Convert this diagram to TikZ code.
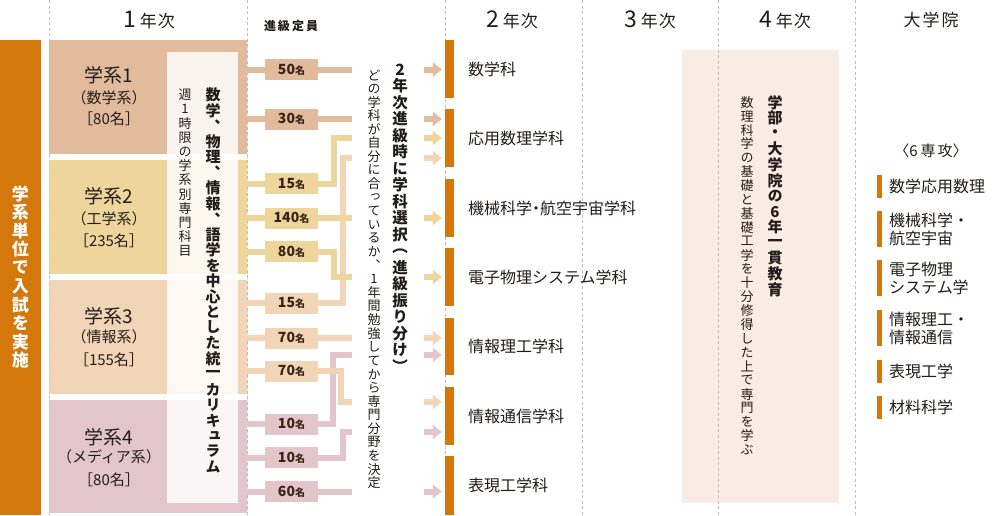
\documentclass[tikz,border=0pt]{standalone}
\usepackage{fontspec}
\setmainfont{Noto Sans CJK JP}
\newfontfamily\vfont[RawFeature=+vert]{Noto Sans CJK JP}
\usetikzlibrary{arrows.meta,calc}
\definecolor{orng}{RGB}{212,120,12}
\definecolor{cA}{RGB}{226,186,156}
\definecolor{cB}{RGB}{237,213,155}
\definecolor{cC}{RGB}{242,212,182}
\definecolor{cD}{RGB}{226,198,204}
\definecolor{bandc}{RGB}{249,236,228}
\definecolor{ink}{RGB}{35,28,26}
\definecolor{qink}{RGB}{58,36,22}
\definecolor{gridc}{RGB}{190,190,190}
\makeatletter
\newcommand\vstk[2]{\vbox{\offinterlineskip\@tfor\vs@c:=#2\do{\hbox to 1.1em{\hss\vbox to #1{\vss\hbox{\vs@c}\vss}\hss}}}}
\makeatother
\newcommand\mei{{\fontsize{10}{10}\selectfont 名}}
\newcommand\nenji[1]{{\fontsize{23}{23}\selectfont #1}\hspace{4pt}{\fontsize{17}{17}\selectfont 年\hspace{1pt}次}}
\begin{document}
\begin{tikzpicture}[x=1pt,y=-1pt,
  txt/.style={inner sep=0pt, text=ink},
  gbox/.style={inner sep=0pt, minimum width=198pt, minimum height=114pt, draw=none},
  qbox/.style={fill=#1, minimum width=53pt, minimum height=21pt, inner sep=0pt, text=qink, font=\bfseries\fontsize{14}{14}\selectfont},
  link/.style={draw=#1, line width=6pt},
  arr/.style={draw=#1, line width=6pt, -{Triangle[length=9pt,width=14pt]}},
  gridline/.style={draw=gridc, dash pattern=on 3pt off 2.5pt, line width=0.8pt},
  dbarst/.style={fill=orng, minimum width=9pt, inner sep=0pt, draw=none},
  gbarst/.style={fill=orng, minimum width=5pt, inner sep=0pt, draw=none},
  dlab/.style={txt, anchor=west, font=\fontsize{16}{16}\selectfont},
  glab/.style={txt, anchor=west, align=left, font=\fontsize{16}{18}\selectfont},
  gname/.style={txt, font=\fontsize{19}{19}\selectfont},
  gsub/.style={txt, font=\fontsize{15}{15}\selectfont},
]
\useasboundingbox (0,0) rectangle (1000,515);
% 4th-year band
\node[fill=bandc, minimum width=157pt, minimum height=453pt, inner sep=0pt] (band) at (760.5,276.5) {};
% dashed column lines
\foreach \xx in {49,247,445,582,718,855} \draw[gridline] (\xx,0) -- (\xx,515);
% headers
\node[txt] (h1) at (149,20) {\nenji{1}};
\node[txt, font=\bfseries\fontsize{12}{12}\selectfont] (hq) at (291,26) {進\,級\,定\,員};
\node[txt] (h2) at (512,20) {\nenji{2}};
\node[txt] (h3) at (650,20) {\nenji{3}};
\node[txt] (h4) at (785,20) {\nenji{4}};
\node[txt, font=\fontsize{17}{17}\selectfont] (h5) at (931,20) {大\hspace{2pt}学\hspace{2pt}院};
% left bar
\node[fill=orng, minimum width=41pt, minimum height=475pt, inner sep=0pt] (lbar) at (20.5,277.5) {};
\node[txt, text=white, font=\vfont\bfseries\fontsize{17}{17}\selectfont] (lbartxt) at (20.5,277) {\vstk{18.5pt}{学系単位で入試を実施}};
% group boxes
\node[gbox, fill=cA] (g1) at (148,97) {};
\node[gbox, fill=cB] (g2) at (148,217) {};
\node[gbox, fill=cC] (g3) at (148,337) {};
\node[gbox, fill=cD, minimum height=113pt] (g4) at (148,456.5) {};
% curriculum overlay
\node[fill=white, fill opacity=0.85, minimum width=71pt, minimum height=451pt, inner sep=0pt] (cur) at (202.5,277.5) {};
\draw[gridline, draw opacity=0.45] (49,40) -- (49,515);
\draw[gridline, draw opacity=0.45] (247,40) -- (247,515);
% group texts
\node[gname] (g1a) at (109,75) {学系1};
\node[gsub] (g1b) at (109,97.5) {（数学系）};
\node[gsub] (g1c) at (109,119) {［80名］};
\node[gname] (g2a) at (109,196) {学系2};
\node[gsub] (g2b) at (109,219) {（工学系）};
\node[gsub] (g2c) at (109,241) {［235名］};
\node[gname] (g3a) at (109,316) {学系3};
\node[gsub] (g3b) at (109,337) {（情報系）};
\node[gsub] (g3c) at (109,360) {［155名］};
\node[gname] (g4a) at (109,437) {学系4};
\node[gsub] (g4b) at (109,457) {（メディア系）};
\node[gsub] (g4c) at (109,480) {［80名］};
% curriculum texts
\node[txt, font=\vfont\fontsize{13}{13}\selectfont] (cur1) at (185,173) {\vstk{14.2pt}{週1時限の学系別専門科目}};
\node[txt, font=\vfont\bfseries\fontsize{15}{15}\selectfont] (cur2) at (213,281) {\vstk{15.5pt}{数学︑物理︑情報︑語学を中心とした統一カリキュラム}};
% quota labels
\node[qbox=cA] (q1) at (291.5,69.5) {50\mei};
\node[qbox=cA] (q2) at (291.5,119) {30\mei};
\node[qbox=cB] (q3) at (291.5,183.5) {15\mei};
\node[qbox=cB] (q4) at (291.5,218) {140\mei};
\node[qbox=cB] (q5) at (291.5,251.5) {80\mei};
\node[qbox=cC] (q6) at (291.5,303) {15\mei};
\node[qbox=cC] (q7) at (291.5,338) {70\mei};
\node[qbox=cC] (q8) at (291.5,371) {70\mei};
\node[qbox=cD] (q9) at (291.5,424) {10\mei};
\node[qbox=cD] (q10) at (291.5,457.5) {10\mei};
\node[qbox=cD] (q11) at (291.5,491.5) {60\mei};
% middle texts
\node[txt, font=\vfont\bfseries\fontsize{15.5}{15.5}\selectfont] (sel1) at (400,218) {\vstk{16.5pt}{2年次進級時に学科選択︵進級振り分け︶}};
\node[txt, font=\vfont\fontsize{13}{13}\selectfont] (sel2) at (374,279) {\vstk{13.6pt}{どの学科が自分に合っているか︑1年間勉強してから専門分野を決定}};
% department bars and labels
\node[dbarst, minimum height=58pt] (d1) at (449.5,69) {};
\node[dbarst, minimum height=58pt] (d2) at (449.5,138) {};
\node[dbarst, minimum height=58pt] (d3) at (449.5,208) {};
\node[dbarst, minimum height=58pt] (d4) at (449.5,277) {};
\node[dbarst, minimum height=57pt] (d5) at (449.5,346.5) {};
\node[dbarst, minimum height=58pt] (d6) at (449.5,416) {};
\node[dbarst, minimum height=59pt] (d7) at (449.5,485.5) {};
\node[dlab] (dl1) at (468,69) {数学科};
\node[dlab] (dl2) at (468,138) {応用数理学科};
\node[dlab] (dl3) at (468,208) {機械科学\hspace{-4pt}・\hspace{-4pt}航空宇宙学科};
\node[dlab] (dl4) at (468,277) {電子物理システム学科};
\node[dlab] (dl5) at (468,346.5) {情報理工学科};
\node[dlab] (dl6) at (468,416) {情報通信学科};
\node[dlab] (dl7) at (468,485.5) {表現工学科};
% band texts
\node[txt, font=\vfont\bfseries\fontsize{15}{15}\selectfont] (bt1) at (775,196) {\vstk{15.6pt}{学部・大学院の6年一貫教育}};
\node[txt, font=\vfont\fontsize{13}{13}\selectfont] (bt2) at (747,276) {\vstk{13.9pt}{数理科学の基礎と基礎工学を十分修得した上で専門を学ぶ}};
% graduate school
\node[txt, font=\fontsize{15}{15}\selectfont] (g6) at (931,151) {〈6\hspace{3pt}専\hspace{2pt}攻〉};
\node[gbarst, minimum height=23pt] (gb1) at (879.5,186.5) {};
\node[gbarst, minimum height=36pt] (gb2) at (879.5,229) {};
\node[gbarst, minimum height=36pt] (gb3) at (879.5,278) {};
\node[gbarst, minimum height=36pt] (gb4) at (879.5,328) {};
\node[gbarst, minimum height=23pt] (gb5) at (879.5,371.5) {};
\node[gbarst, minimum height=23pt] (gb6) at (879.5,407.5) {};
\node[glab] (gl1) at (889,186.5) {数学応用数理};
\node[glab] (gl2) at (889,229) {機械科学・\\航空宇宙};
\node[glab] (gl3) at (889,278) {電子物理\\システム学};
\node[glab] (gl4) at (889,328) {情報理工・\\情報通信};
\node[glab] (gl5) at (889,371.5) {表現工学};
\node[glab] (gl6) at (889,407.5) {材料科学};
% connector coordinates
\coordinate (e1) at (352,69.5);
\coordinate (e2) at (352,119);
\coordinate (k3) at (334,138);  \coordinate (e3) at (352,138);
\coordinate (e4) at (352,218);
\coordinate (k5) at (334,277);  \coordinate (e5) at (352,277);
\coordinate (k6) at (343,158);  \coordinate (e6) at (352,158);
\coordinate (e7) at (352,338);
\coordinate (k8) at (340.5,402); \coordinate (e8) at (352,402);
\coordinate (k9) at (333,355);  \coordinate (e9) at (352,355);
\coordinate (k10) at (342.5,432); \coordinate (e10) at (352,432);
\coordinate (e11) at (352,491.5);
% links group -> quota
\draw[link=cA] (g1.east |- q1) -- (q1.west);
\draw[link=cA] (g1.east |- q2) -- (q2.west);
\draw[link=cB] (g2.east |- q3) -- (q3.west);
\draw[link=cB] (g2.east |- q4) -- (q4.west);
\draw[link=cB] (g2.east |- q5) -- (q5.west);
\draw[link=cC] (g3.east |- q6) -- (q6.west);
\draw[link=cC] (g3.east |- q7) -- (q7.west);
\draw[link=cC] (g3.east |- q8) -- (q8.west);
\draw[link=cD] (g4.east |- q9) -- (q9.west);
\draw[link=cD] (g4.east |- q10) -- (q10.west);
\draw[link=cD] (g4.east |- q11) -- (q11.west);
% links quota -> junction
\draw[link=cC] (q6.east) -| (k6) -- (e6);
\draw[link=cD] (q9.east) -| (k9) -- (e9);
\draw[link=cD] (q10.east) -| (k10) -- (e10);
\draw[link=cA] (q1.east) -- (e1);
\draw[link=cA] (q2.east) -- (e2);
\draw[link=cB] (q3.east) -| (k3) -- (e3);
\draw[link=cB] (q4.east) -- (e4);
\draw[link=cB] (q5.east) -| (k5) -- (e5);
\draw[link=cC] (q7.east) -- (e7);
\draw[link=cC] (q8.east) -| (k8) -- (e8);
\draw[link=cD] (q11.east) -- (e11);
% arrows into departments
\coordinate (s1) at (424,69.5);
\coordinate (s2) at (424,119);
\coordinate (s3) at (424,138);
\coordinate (s4) at (424,158);
\coordinate (s5) at (424,218);
\coordinate (s6) at (424,277);
\coordinate (s7) at (424,338);
\coordinate (s8) at (424,355);
\coordinate (s9) at (424,402);
\coordinate (s10) at (424,432);
\coordinate (s11) at (424,491.5);
\draw[arr=cA] (s1) -- ($(s1 -| d1.west)+(-3,0)$);
\draw[arr=cA] (s2) -- ($(s2 -| d2.west)+(-3,0)$);
\draw[arr=cB] (s3) -- ($(s3 -| d2.west)+(-3,0)$);
\draw[arr=cC] (s4) -- ($(s4 -| d2.west)+(-3,0)$);
\draw[arr=cB] (s5) -- ($(s5 -| d3.west)+(-3,0)$);
\draw[arr=cB] (s6) -- ($(s6 -| d4.west)+(-3,0)$);
\draw[arr=cC] (s7) -- ($(s7 -| d5.west)+(-3,0)$);
\draw[arr=cD] (s8) -- ($(s8 -| d5.west)+(-3,0)$);
\draw[arr=cC] (s9) -- ($(s9 -| d6.west)+(-3,0)$);
\draw[arr=cD] (s10) -- ($(s10 -| d6.west)+(-3,0)$);
\draw[arr=cD] (s11) -- ($(s11 -| d7.west)+(-3,0)$);
\end{tikzpicture}
\end{document}
